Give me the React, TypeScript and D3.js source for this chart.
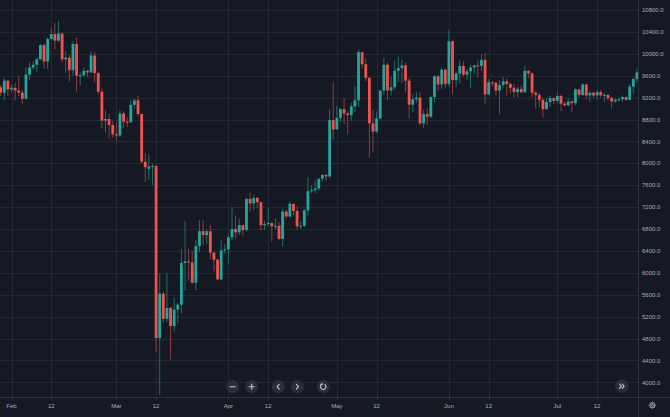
import React from "react";
import * as d3 from "d3";

const W = 670;
const H = 417;
const PLOT_R = 638;
const PLOT_B = 397;

// first candle date; one candle per day
const START = "2020-01-28";

// [open, high, low, close]
const janBars = [
  [8900, 9400, 8860, 9390], [9390, 9430, 9230, 9290], [9290, 9560, 9150, 9510], [9510, 9520, 9230, 9350],
];
const febBars = [
  [9350, 9440, 9300, 9380], [9380, 9470, 9150, 9330], [9330, 9600, 9230, 9290], [9290, 9340, 9080, 9180],
  [9180, 9750, 9170, 9620], [9620, 9850, 9530, 9750], [9750, 9870, 9710, 9800], [9800, 9940, 9670, 9900],
  [9900, 10180, 9890, 10160], [10160, 10190, 9730, 9860], [9860, 10300, 9720, 10270], [10270, 10480, 10250, 10360],
  [10360, 10560, 10080, 10240], [10240, 10600, 10220, 10370], [10370, 10390, 9840, 9900], [9900, 10050, 9650, 9930],
  [9930, 9980, 9490, 9700], [9700, 10240, 9600, 10180], [10180, 10300, 9310, 9600], [9600, 9660, 9420, 9610],
  [9610, 9760, 9580, 9690], [9690, 9710, 9580, 9660], [9660, 10050, 9650, 9970], [9970, 10030, 9480, 9650],
  [9650, 9660, 9260, 9310], [9310, 9370, 8640, 8780], [8780, 8970, 8560, 8810], [8810, 8900, 8450, 8700],
  [8700, 8780, 8470, 8530],
];
const marBars = [
  [8530, 8750, 8420, 8510], [8510, 8960, 8480, 8910], [8910, 8950, 8650, 8760], [8760, 8840, 8660, 8750],
  [8750, 9150, 8740, 9070], [9070, 9180, 9000, 9150], [9150, 9230, 8860, 8900], [8900, 8910, 8000, 8030],
  [8030, 8190, 7660, 7930], [7900, 8160, 7700, 7940], [7940, 7990, 7600, 7950], [7950, 7970, 4560, 4810],
  [4810, 5990, 3770, 5620], [5620, 5660, 5090, 5160], [5160, 5990, 5100, 5360], [5360, 5380, 4420, 5030],
  [5030, 5550, 4930, 5330], [5330, 5450, 5080, 5420], [5420, 6440, 5260, 6180], [6180, 6950, 5670, 6210],
  [6210, 6440, 5860, 6190], [6190, 6400, 5800, 5820], [5820, 6600, 5690, 6490], [6490, 6960, 6380, 6760],
  [6760, 6960, 6510, 6690], [6690, 6790, 6530, 6760], [6760, 6880, 6250, 6370], [6370, 6380, 6030, 6240],
  [6240, 6260, 5870, 5880], [5880, 6600, 5860, 6410], [6410, 6530, 6350, 6430],
];
const aprBars = [
  [6430, 6700, 6150, 6650], [6650, 7200, 6590, 6800], [6800, 7050, 6620, 6740], [6740, 6990, 6690, 6870],
  [6870, 6880, 6680, 6780], [6780, 7370, 6770, 7350], [7350, 7470, 7120, 7270], [7270, 7420, 7150, 7370],
  [7370, 7380, 7180, 7290], [7290, 7300, 6780, 6870], [6870, 6950, 6780, 6890], [6890, 7180, 6850, 6910],
  [6910, 6920, 6570, 6850], [6850, 6990, 6790, 6860], [6860, 6930, 6600, 6620], [6620, 7170, 6480, 7120],
  [7120, 7150, 7000, 7030], [7030, 7300, 7020, 7260], [7260, 7270, 7050, 7130], [7130, 7220, 6790, 6850],
  [6850, 6940, 6800, 6860], [6860, 7170, 6830, 7140], [7140, 7750, 7030, 7490], [7490, 7600, 7460, 7510],
  [7510, 7700, 7460, 7540], [7540, 7720, 7500, 7720], [7720, 7800, 7660, 7790], [7790, 7800, 7680, 7760],
  [7760, 8990, 7730, 8790], [8790, 9470, 8430, 8620],
];
const mayBars = [
  [8620, 9050, 8620, 8830], [8830, 9010, 8760, 8990], [8990, 9190, 8720, 8910], [8910, 8950, 8530, 8880],
  [8880, 9100, 8780, 9040], [9040, 9400, 8940, 9150], [9150, 10070, 9030, 10030], [10030, 10040, 9730, 9810],
  [9810, 9920, 9500, 9560], [9560, 9580, 8100, 8730], [8730, 8980, 8200, 8580], [8580, 8950, 8550, 8820],
  [8820, 9340, 8800, 9330], [9330, 9930, 9260, 9800], [9800, 9840, 9150, 9330], [9330, 9590, 9240, 9390],
  [9390, 9880, 9350, 9690], [9690, 9950, 9480, 9740], [9740, 9890, 9470, 9790], [9790, 9840, 9290, 9510],
  [9510, 9560, 8820, 9070], [9070, 9270, 8930, 9170], [9170, 9310, 9100, 9200], [9200, 9300, 8700, 8730],
  [8730, 8980, 8640, 8900], [8900, 9010, 8700, 8850], [8850, 9220, 8820, 9210], [9210, 9610, 9110, 9590],
  [9590, 9610, 9330, 9440], [9440, 9740, 9350, 9710], [9710, 9720, 9380, 9450],
];
const junBars = [
  [9450, 10440, 9400, 10230], [10230, 10240, 9260, 9520], [9520, 9680, 9390, 9640], [9640, 9880, 9460, 9780],
  [9780, 9860, 9580, 9620], [9620, 9730, 9530, 9680], [9680, 9800, 9370, 9750], [9750, 9800, 9640, 9790],
  [9790, 9880, 9570, 9780], [9780, 9990, 9690, 9890], [9890, 10020, 9090, 9260], [9260, 9540, 9250, 9480],
  [9480, 9500, 9400, 9470], [9470, 9490, 9240, 9330], [9330, 9520, 8900, 9430], [9430, 9580, 9370, 9500],
  [9500, 9550, 9240, 9450], [9450, 9480, 9280, 9380], [9380, 9450, 9200, 9300], [9300, 9400, 9200, 9360],
  [9360, 9420, 9270, 9300], [9300, 9780, 9280, 9690], [9690, 9700, 9560, 9640], [9640, 9670, 9210, 9290],
  [9290, 9320, 9000, 9250], [9250, 9290, 9030, 9160], [9160, 9200, 8840, 8990], [8990, 9200, 8980, 9120],
  [9120, 9230, 9020, 9190], [9190, 9200, 9080, 9140],
];
const julBars = [
  [9140, 9300, 9100, 9230], [9230, 9260, 8950, 9090], [9090, 9130, 9040, 9060], [9060, 9190, 9050, 9130],
  [9130, 9150, 8930, 9100], [9100, 9370, 9060, 9350], [9350, 9360, 9200, 9250], [9250, 9460, 9230, 9440],
  [9440, 9450, 9170, 9240], [9240, 9310, 9120, 9290], [9290, 9300, 9200, 9240], [9240, 9340, 9160, 9300],
  [9300, 9340, 9200, 9240], [9240, 9280, 9120, 9250], [9250, 9270, 9150, 9190], [9190, 9220, 9000, 9130],
  [9130, 9190, 9100, 9160], [9160, 9200, 9130, 9170], [9170, 9240, 9120, 9210], [9210, 9220, 9140, 9160],
  [9160, 9440, 9150, 9400], [9400, 9560, 9280, 9540], [9540, 9730, 9470, 9660],
];

const priceTicks = [4000, 4400, 4800, 5200, 5600, 6000, 6400, 6800, 7200, 7600, 8000, 8400, 8800, 9200, 9600, 10000, 10400, 10800];
const timeTickDates = ["2020-02-01", "2020-02-12", "2020-03-01", "2020-03-12", "2020-04-01", "2020-04-12", "2020-05-01", "2020-05-12", "2020-06-01", "2020-06-12", "2020-07-01", "2020-07-12"];
const timeTickLabels = ["Feb", "12", "Mar", "12", "Apr", "12", "May", "12", "Jun", "12", "Jul", "12"];

const BG = "#151924";
const GRID = "#242833";
const AXIS_LINE = "#2e323d";
const TEXT = "#a9adb8";
const UP = "#26a69a";
const DOWN = "#ef5350";
const UP_WICK = "#1f6f67";
const DOWN_WICK = "#8e3b3e";
const BTN = "#2a2e39";
const ICON = "#c5c8cf";

const allBars = [...janBars, ...febBars, ...marBars, ...aprBars, ...mayBars, ...junBars, ...julBars];
const startDate = new Date(START + "T00:00:00Z");
const candles = allBars.map((b, i) => ({
  date: d3.utcDay.offset(startDate, i),
  o: b[0], h: b[1], l: b[2], c: b[3],
}));

const x = d3.scaleUtc()
  .domain([new Date("2020-02-01T00:00:00Z"), new Date("2020-07-23T00:00:00Z")])
  .range([11.5, 636.9]);
const y = d3.scaleLinear().domain([4000, 10800]).range([382.4, 10]);
const fmt = d3.format(".1f");

const BODY_W = 2.8;
const FONT = "'Liberation Sans', Arial, sans-serif";

function Btn({ cx, cy, children }: { cx: number; cy: number; children?: React.ReactNode }) {
  return (
    <g transform={`translate(${cx},${cy})`}>
      <circle r={6.6} fill={BTN} />
      <g stroke={ICON} strokeWidth={1.1} fill="none" strokeLinecap="round" strokeLinejoin="round">{children}</g>
    </g>
  );
}

export default function App() {
  const by = 386.7;
  const gear = d3.range(8).map((k) => (k * Math.PI) / 4);
  return (
    <div style={{ position: "fixed", left: 0, top: 0, width: W, height: H, background: BG }}>
      <svg width={W} height={H} style={{ display: "block" }}>
        <rect width={W} height={H} fill={BG} />
        <defs>
          <clipPath id="plot">
            <rect x={0} y={0} width={PLOT_R} height={PLOT_B} />
          </clipPath>
        </defs>
        {/* grid */}
        <g clipPath="url(#plot)">
          {priceTicks.map((p) => (
            <line key={p} x1={0} x2={PLOT_R} y1={Math.round(y(p)) + 0.5} y2={Math.round(y(p)) + 0.5} stroke={GRID} strokeWidth={1} />
          ))}
          {timeTickDates.map((d) => {
            const xx = Math.round(x(new Date(d + "T00:00:00Z"))) + 0.5;
            return <line key={d} x1={xx} x2={xx} y1={0} y2={PLOT_B} stroke={GRID} strokeWidth={1} />;
          })}
        </g>
        {/* candles */}
        <g clipPath="url(#plot)">
          {candles.map((c, i) => {
            const cx = x(c.date);
            const up = c.c >= c.o;
            const top = y(Math.max(c.o, c.c));
            const bot = y(Math.min(c.o, c.c));
            return (
              <g key={i}>
                <line x1={cx} x2={cx} y1={y(c.h)} y2={y(c.l)} stroke={up ? UP_WICK : DOWN_WICK} strokeWidth={1} />
                <rect x={cx - BODY_W / 2} y={top} width={BODY_W} height={Math.max(1, bot - top)} fill={up ? UP : DOWN} />
              </g>
            );
          })}
        </g>
        {/* axes lines */}
        <line x1={0} x2={W} y1={PLOT_B + 0.5} y2={PLOT_B + 0.5} stroke={AXIS_LINE} strokeWidth={1} />
        <line x1={PLOT_R + 0.5} x2={PLOT_R + 0.5} y1={0} y2={H} stroke={AXIS_LINE} strokeWidth={1} />
        {/* price labels */}
        {priceTicks.map((p) => (
          <text key={p} x={642} y={y(p)} dy="0.35em" fontSize={6} fill={TEXT} fontFamily={FONT}>
            {fmt(p)}
          </text>
        ))}
        {/* time labels */}
        {timeTickDates.map((d, i) => {
          const xx = x(new Date(d + "T00:00:00Z"));
          return (
            <g key={d}>
              <line x1={Math.round(xx) + 0.5} x2={Math.round(xx) + 0.5} y1={PLOT_B + 1} y2={PLOT_B + 3} stroke={AXIS_LINE} />
              <text x={xx} y={406} dy="0.35em" textAnchor="middle" fontSize={6} fill={TEXT} fontFamily={FONT}>
                {timeTickLabels[i]}
              </text>
            </g>
          );
        })}
        {/* navigation buttons */}
        <Btn cx={232.7} cy={by}><path d="M-2.6,0H2.6" /></Btn>
        <Btn cx={251.7} cy={by}><path d="M-2.6,0H2.6M0,-2.6V2.6" /></Btn>
        <Btn cx={278.3} cy={by}><path d="M0.9,-2.4L-1.1,0L0.9,2.4" /></Btn>
        <Btn cx={297.3} cy={by}><path d="M-0.9,-2.4L1.1,0L-0.9,2.4" /></Btn>
        <Btn cx={323.3} cy={by}>
          <path d="M-1.2,-2.4A2.7,2.7 0 1 0 1.6,-2.1" />
          <path d="M-1.4,-3.6L-1.2,-2.4L-2.5,-1.9" />
        </Btn>
        <Btn cx={621.8} cy={386.2}>
          <path d="M-2.3,-2.2L-0.4,0L-2.3,2.2M0.4,-2.2L2.3,0L0.4,2.2" />
        </Btn>
        {/* settings gear */}
        <g transform="translate(652.3,405.3)" stroke="#a9adb8" fill="none" strokeWidth={0.9}>
          <circle r={2.4} />
          <circle r={1} />
          {gear.map((a, k) => (
            <line key={k} x1={Math.cos(a) * 2.4} y1={Math.sin(a) * 2.4} x2={Math.cos(a) * 3.6} y2={Math.sin(a) * 3.6} />
          ))}
        </g>
      </svg>
    </div>
  );
}
